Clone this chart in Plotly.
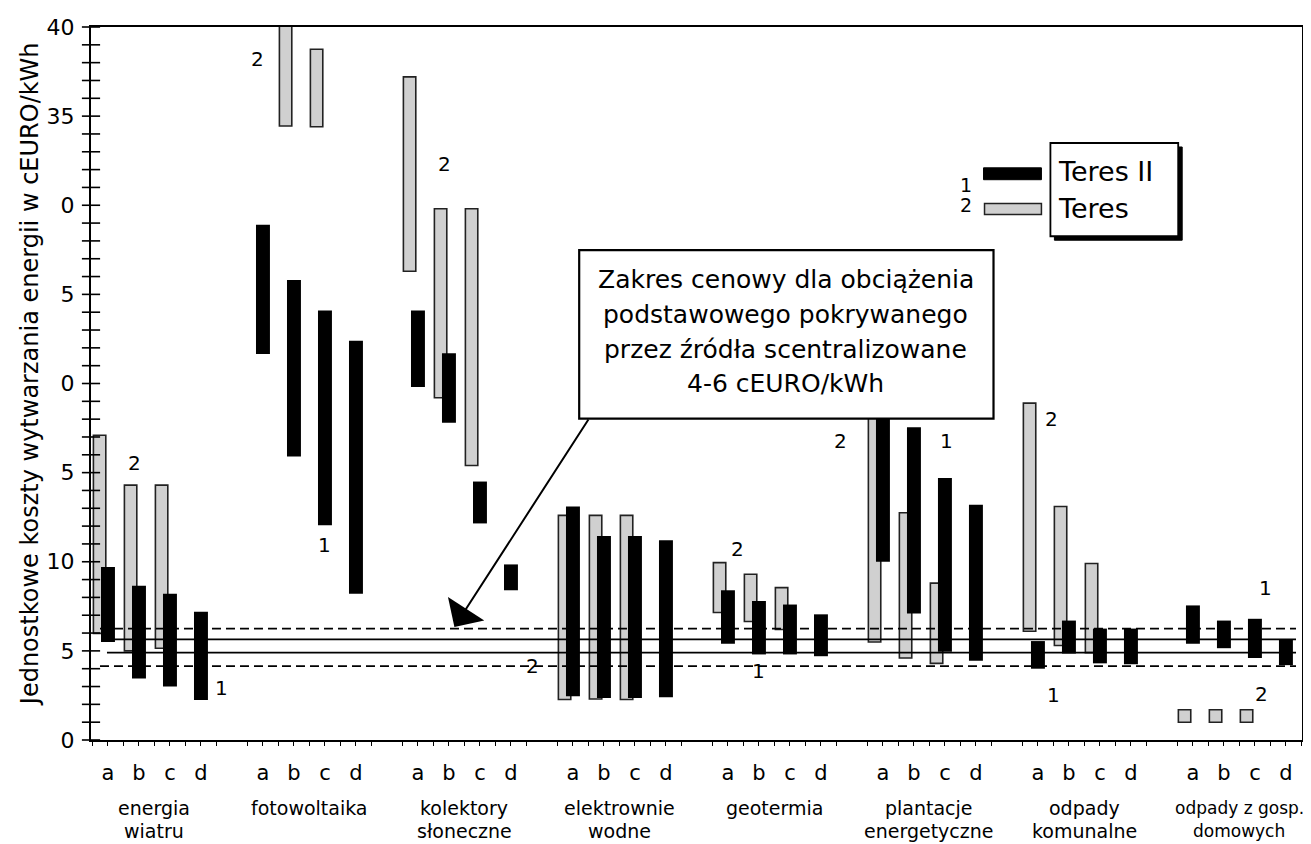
import plotly.graph_objects as go

# ---------------- data ----------------
groups = ["energia<br>wiatru", "fotowoltaika", "kolektory<br>słoneczne", "elektrownie<br>wodne",
          "geotermia", "plantacje<br>energetyczne", "odpady<br>komunalne", "odpady z gosp.<br>domowych"]
slots = ["a", "b", "c", "d"]

# Teres II (1) – black bars: low / high  [cEURO/kWh]
teres2_low = [
    [5.5, 3.45, 3.0, 2.25],
    [21.65, 15.9, 12.05, 8.2],
    [19.8, 17.8, 12.15, 8.4],
    [2.45, 2.35, 2.35, 2.4],
    [5.4, 4.8, 4.8, 4.7],
    [10.0, 7.1, 4.95, 4.45],
    [4.0, 4.85, 4.3, 4.25],
    [5.4, 5.15, 4.6, 4.2],
]
teres2_high = [
    [9.7, 8.65, 8.2, 7.2],
    [28.9, 25.8, 24.1, 22.4],
    [24.1, 21.7, 14.5, 9.85],
    [13.1, 11.45, 11.45, 11.2],
    [8.4, 7.8, 7.6, 7.05],
    [20.0, 17.55, 14.7, 13.2],
    [5.55, 6.7, 6.25, 6.25],
    [7.55, 6.7, 6.8, 5.65],
]
# Teres (2) – grey bars: low / high (None = no value)
teres_low = [
    [5.98, 5.0, 5.15, None],
    [None, 34.45, 34.4, None],
    [26.3, 19.2, 15.4, None],
    [2.27, 2.3, 2.27, None],
    [7.15, 6.65, 6.2, None],
    [5.5, 4.6, 4.3, None],
    [6.1, 5.3, 4.9, None],
    [1.0, 1.0, 1.0, None],
]
teres_high = [
    [17.1, 14.3, 14.3, None],
    [None, 40.5, 38.75, None],
    [37.2, 29.8, 29.8, None],
    [12.6, 12.6, 12.6, None],
    [9.95, 9.3, 8.55, None],
    [20.0, 12.75, 8.8, None],
    [18.9, 13.1, 9.9, None],
    [1.7, 1.7, 1.7, None],
]

# reference price band lines (dashed, solid, solid, dashed)
band_levels = [6.25, 5.65, 4.9, 4.15]
band_styles = ["dash", "solid", "solid", "dash"]

y_tickvals = [0, 5, 10, 15, 20, 25, 30, 35, 40]
y_ticktext = ["0", "5", "10", "5", "0", "5", "0", "35", "40"]

# series number labels: (group, slot offset, value, text)
num_labels = [
    (0, 0.87, 15.55, "2"), (0, 3.67, 2.9, "1"),
    (1, -0.17, 38.2, "2"), (1, 1.99, 10.95, "1"),
    (2, 0.85, 32.3, "2"),
    (2, 3.69, 4.15, "2"),
    (4, 0.32, 10.7, "2"), (4, 1.0, 3.85, "1"),
    (5, -1.36, 16.8, "2"), (5, 2.05, 16.8, "1"),
    (6, 0.43, 18.0, "2"), (6, 0.5, 2.5, "1"),
    (7, 2.33, 8.55, "1"), (7, 2.2, 2.6, "2"),
]

# ---------------- geometry helpers (screen pixels) ----------------
SCREEN_W, SCREEN_H = 1311, 844
OFF = 8                      # page body margin
W, H = SCREEN_W - OFF, SCREEN_H - OFF
L, R, T, B = 91, 1304, 21, 740   # plot area in screen pixels
SLOT_PX = 31.05
X0_PX = 108
GREY_OFF = -0.27
FONT = "DejaVu Sans"


def u_of_px(px):
    return (px - X0_PX) / SLOT_PX


def pxx(px):
    return (px - L) / (R - L)


def pxy(py):
    return (B - py) / (B - T)


def slot_u(g, s):
    return 5 * g + s


fig = go.Figure()

# grey (Teres) bars
gx, gy, gb = [], [], []
for g in range(len(groups)):
    for s in range(4):
        lo, hi = teres_low[g][s], teres_high[g][s]
        if lo is None:
            continue
        gx.append(slot_u(g, s) + GREY_OFF)
        gy.append(hi - lo)
        gb.append(lo)
fig.add_trace(go.Bar(x=gx, y=gy, base=gb, width=0.40,
                     marker=dict(color="#d0d0d0", line=dict(color="#222", width=1.6)),
                     showlegend=False, hoverinfo="skip"))

# reference band lines
for lev, st in zip(band_levels, band_styles):
    x_start = u_of_px(100) if st == "dash" else u_of_px(107)
    fig.add_trace(go.Scatter(x=[x_start, u_of_px(1298)], y=[lev, lev], mode="lines",
                             line=dict(color="black", width=1.8,
                                       dash="9px,5px" if st == "dash" else "solid"),
                             showlegend=False, hoverinfo="skip"))

# black (Teres II) bars
bx, by, bb = [], [], []
for g in range(len(groups)):
    for s in range(4):
        lo, hi = teres2_low[g][s], teres2_high[g][s]
        bx.append(slot_u(g, s))
        by.append(hi - lo)
        bb.append(lo)
fig.add_trace(go.Bar(x=bx, y=by, base=bb, width=0.45,
                     marker=dict(color="black", line=dict(width=0)),
                     showlegend=False, hoverinfo="skip"))

# crossing y ticks
x_left = u_of_px(L)
fig.add_trace(go.Scatter(x=[x_left] * 41, y=list(range(41)), mode="markers",
                         marker=dict(symbol="line-ew", size=13, line=dict(color="black", width=1.6)),
                         cliponaxis=False, showlegend=False, hoverinfo="skip"))

annotations = []
# number labels
for g, off, v, t in num_labels:
    annotations.append(dict(x=5 * g + off, y=v, xref="x", yref="y", text=t, showarrow=False,
                            xanchor="center", yanchor="middle",
                            font=dict(size=20, family=FONT, color="black")))

# category names (one annotation per line)
for g, name in enumerate(groups):
    parts = name.split("<br>")
    size = 17 if g == len(groups) - 1 else 19
    for k, part in enumerate(parts):
        annotations.append(dict(x=5 * g + 1.5, y=pxy(809 + 23 * k), xref="x", yref="paper",
                                text=part, showarrow=False, yanchor="middle", xanchor="center",
                                font=dict(size=size, family=FONT, color="black")))

# y axis title
annotations.append(dict(x=pxx(30), y=pxy(371), xref="paper", yref="paper",
                        text="Jednostkowe koszty wytwarzania energii w cEURO/kWh",
                        textangle=-90, showarrow=False, xanchor="center", yanchor="middle",
                        font=dict(size=24, family=FONT, color="black")))

# info box text
box_lines = ["Zakres cenowy dla obciążenia", "podstawowego pokrywanego",
             "przez źródła scentralizowane", "4-6 cEURO/kWh"]
for i, line in enumerate(box_lines):
    annotations.append(dict(x=pxx(787), y=pxy(276 + 35 * i), xref="paper", yref="paper",
                            text=line, showarrow=False, xanchor="center", yanchor="middle",
                            font=dict(size=25, family=FONT, color="black")))

# arrow from box to band
annotations.append(dict(x=pxx(455), y=pxy(626), xref="paper", yref="paper", text="",
                        showarrow=True, ax=590 - 455, ay=417 - 626, arrowhead=1,
                        arrowsize=3.6, arrowwidth=2, arrowcolor="black"))

# legend texts
annotations += [
    dict(x=pxx(967), y=pxy(180), xref="paper", yref="paper", text="1", showarrow=False,
         xanchor="center", yanchor="middle", font=dict(size=19, family=FONT, color="black")),
    dict(x=pxx(967), y=pxy(201), xref="paper", yref="paper", text="2", showarrow=False,
         xanchor="center", yanchor="middle", font=dict(size=19, family=FONT, color="black")),
    dict(x=pxx(1058), y=pxy(167), xref="paper", yref="paper", text="Teres II", showarrow=False,
         xanchor="left", yanchor="middle", font=dict(size=27, family=FONT, color="black")),
    dict(x=pxx(1058), y=pxy(204), xref="paper", yref="paper", text="Teres", showarrow=False,
         xanchor="left", yanchor="middle", font=dict(size=27, family=FONT, color="black")),
]

shapes = [
    # info box
    dict(type="rect", xref="paper", yref="paper", x0=pxx(580), x1=pxx(995), y0=pxy(416), y1=pxy(246),
         fillcolor="white", line=dict(color="black", width=2.2), layer="above"),
    # legend box shadow and box
    dict(type="rect", xref="paper", yref="paper", x0=pxx(1056), x1=pxx(1184), y0=pxy(236), y1=pxy(142),
         fillcolor="black", line=dict(color="black", width=1), layer="above"),
    dict(type="rect", xref="paper", yref="paper", x0=pxx(1052), x1=pxx(1180), y0=pxy(232), y1=pxy(138),
         fillcolor="white", line=dict(color="black", width=1.8), layer="above"),
    # legend samples
    dict(type="rect", xref="paper", yref="paper", x0=pxx(985), x1=pxx(1043), y0=pxy(175), y1=pxy(163),
         fillcolor="black", line=dict(color="black", width=1), layer="above"),
    dict(type="rect", xref="paper", yref="paper", x0=pxx(986), x1=pxx(1043), y0=pxy(210), y1=pxy(199),
         fillcolor="#d0d0d0", line=dict(color="#222", width=1.5), layer="above"),
]

fig.update_layout(
    width=W, height=H,
    margin=dict(l=L - OFF, r=SCREEN_W - R, t=T - OFF, b=SCREEN_H - B, pad=0),
    paper_bgcolor="white", plot_bgcolor="white",
    barmode="overlay",
    font=dict(family=FONT, color="black"),
    annotations=annotations,
    shapes=shapes,
    xaxis=dict(range=[u_of_px(L), u_of_px(R)], showgrid=False, zeroline=False,
               showline=True, mirror=True, linecolor="black", linewidth=2,
               tickmode="array",
               tickvals=[slot_u(g, s) for g in range(len(groups)) for s in range(4)],
               ticktext=[slots[s] for g in range(len(groups)) for s in range(4)],
               ticks="outside", ticklen=4, tickcolor="black", tickwidth=1.2,
               ticklabelstandoff=9,
               minor=dict(ticks="outside", ticklen=4, tickcolor="black", tickwidth=1.2,
                          tickmode="linear", tick0=0.5, dtick=1),
               tickfont=dict(size=21, family=FONT, color="black")),
    yaxis=dict(range=[0, 40], showgrid=False, zeroline=False,
               showline=True, mirror=True, linecolor="black", linewidth=2,
               tickmode="array", tickvals=y_tickvals, ticktext=y_ticktext,
               ticks="", ticklabelstandoff=10,
               tickfont=dict(size=22, family=FONT, color="black")),
)

fig.write_html("out.html")
